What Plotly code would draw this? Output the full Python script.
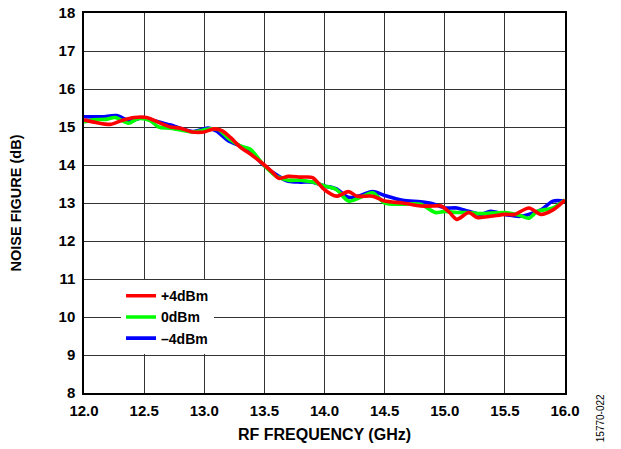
import plotly.graph_objects as go

red_x = [12.0, 12.1, 12.22, 12.32, 12.42, 12.52, 12.62, 12.72, 12.8, 12.9, 13.0, 13.08, 13.15, 13.22, 13.3, 13.4, 13.5, 13.57, 13.62, 13.7, 13.8, 13.9, 14.0, 14.1, 14.2, 14.27, 14.4, 14.5, 14.65, 14.8, 14.9, 14.97, 15.04, 15.1, 15.2, 15.27, 15.38, 15.5, 15.58, 15.7, 15.8, 15.9, 16.0]
red_y = [15.19, 15.12, 15.07, 15.18, 15.25, 15.25, 15.12, 15.0, 14.97, 14.87, 14.87, 14.95, 14.9, 14.72, 14.47, 14.25, 14.0, 13.8, 13.65, 13.7, 13.68, 13.67, 13.35, 13.18, 13.3, 13.18, 13.18, 13.05, 13.0, 12.92, 12.92, 12.92, 12.75, 12.57, 12.75, 12.62, 12.65, 12.7, 12.7, 12.87, 12.7, 12.82, 13.08]

green_x = [12.0, 12.08, 12.18, 12.26, 12.37, 12.45, 12.55, 12.62, 12.72, 12.9, 13.05, 13.12, 13.2, 13.3, 13.38, 13.5, 13.6, 13.7, 13.8, 13.9, 14.0, 14.1, 14.2, 14.3, 14.4, 14.5, 14.65, 14.8, 14.92, 15.0, 15.1, 15.2, 15.3, 15.5, 15.62, 15.7, 15.77, 15.9, 16.0]
green_y = [15.13, 15.19, 15.2, 15.25, 15.1, 15.22, 15.17, 15.0, 14.97, 14.87, 14.95, 14.93, 14.7, 14.5, 14.42, 13.98, 13.7, 13.6, 13.6, 13.55, 13.45, 13.35, 13.05, 13.15, 13.27, 13.0, 12.97, 12.97, 12.75, 12.78, 12.75, 12.75, 12.72, 12.75, 12.68, 12.6, 12.78, 12.87, 13.08]

blue_x = [12.0, 12.15, 12.27, 12.38, 12.5, 12.6, 12.72, 12.9, 13.03, 13.1, 13.2, 13.3, 13.4, 13.5, 13.62, 13.7, 13.8, 13.9, 14.0, 14.1, 14.2, 14.3, 14.4, 14.5, 14.65, 14.8, 14.9, 15.0, 15.1, 15.2, 15.3, 15.38, 15.5, 15.63, 15.8, 15.9, 16.0]
blue_y = [15.27, 15.27, 15.3, 15.17, 15.25, 15.15, 15.05, 14.88, 14.97, 14.9, 14.64, 14.5, 14.3, 13.98, 13.7, 13.57, 13.55, 13.55, 13.45, 13.37, 13.15, 13.2, 13.3, 13.2, 13.07, 13.03, 12.98, 12.87, 12.87, 12.78, 12.7, 12.78, 12.7, 12.65, 12.82, 13.05, 13.05]

x_ticks = [12.0, 12.5, 13.0, 13.5, 14.0, 14.5, 15.0, 15.5, 16.0]
y_ticks = [8, 9, 10, 11, 12, 13, 14, 15, 16, 17, 18]

FONT = "Liberation Sans, Arial, sans-serif"

fig = go.Figure()
for name, xs, ys, col in [("–4dBm", blue_x, blue_y, "#0000FF"),
                          ("0dBm", green_x, green_y, "#00FF00"),
                          ("+4dBm", red_x, red_y, "#FF0000")]:
    fig.add_trace(go.Scatter(x=xs, y=ys, mode="lines", name=name,
                             line=dict(color=col, width=3.6, shape="spline", smoothing=0.8)))

fig.update_layout(
    width=621, height=449,
    margin=dict(l=76, r=64, t=5, b=64),
    paper_bgcolor="white", plot_bgcolor="white",
    font=dict(family=FONT, color="black", size=14, weight="bold"),
    showlegend=True,
    legend=dict(x=0.077, y=0.297, xanchor="left", yanchor="top",
                bgcolor="white", borderwidth=0, traceorder="reversed",
                font=dict(size=14, family=FONT, weight="bold"),
                itemwidth=30, tracegroupgap=0),
    annotations=[dict(text="15770-022", x=1.073, y=-0.066, xref="paper", yref="paper",
                      xanchor="center", yanchor="middle",
                      showarrow=False, textangle=-90,
                      font=dict(size=10, family=FONT, weight="normal"))],
)

fig.update_xaxes(range=[12, 16], tickvals=x_ticks, ticktext=[f"{v:.1f}" for v in x_ticks],
                 showgrid=True, gridcolor="#333333", gridwidth=1,
                 showline=True, linecolor="black", linewidth=1.5, mirror=True,
                 ticks="", zeroline=False, ticklabelstandoff=3, ticklabeloverflow="allow",
                 automargin="bottom",
                 tickfont=dict(size=15, family=FONT, weight="bold"),
                 title=dict(text="RF FREQUENCY (GHz)", font=dict(size=16, family=FONT, weight="bold"), standoff=11))
fig.update_yaxes(range=[8, 18], tickvals=y_ticks,
                 showgrid=True, gridcolor="#333333", gridwidth=1,
                 showline=True, linecolor="black", linewidth=1.5, mirror=True,
                 ticks="", zeroline=False, ticklabelstandoff=4, ticklabeloverflow="allow",
                 automargin="left",
                 tickfont=dict(size=15, family=FONT, weight="bold"),
                 title=dict(text="NOISE FIGURE (dB)", font=dict(size=14.5, family=FONT, weight="bold"), standoff=34))

fig.write_html("out.html")
